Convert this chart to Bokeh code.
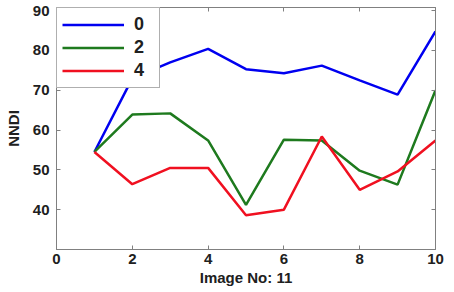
from bokeh.plotting import figure
from bokeh.models import LinearAxis, FixedTicker, Range1d, Legend, LegendItem
from bokeh.embed import file_html
from bokeh.resources import INLINE

x_vals = [1, 2, 3, 4, 5, 6, 7, 8, 9, 10]
series_0 = [54.5, 73.0, 77.0, 80.4, 75.3, 74.3, 76.2, 72.5, 68.9, 84.8]
series_2 = [54.5, 63.9, 64.2, 57.4, 41.2, 57.6, 57.4, 49.8, 46.3, 70.0]
series_4 = [54.5, 46.4, 50.5, 50.5, 38.6, 40.0, 58.4, 45.0, 49.6, 57.4]
labels = ["0", "2", "4"]
colors = ["#0000f0", "#1e7a1e", "#f01020"]
x_ticks = [0, 2, 4, 6, 8, 10]
y_ticks = [40, 50, 60, 70, 80, 90]

FONT = "Liberation Sans"

p = figure(width=445, height=288, output_backend="svg", toolbar_location=None,
           x_range=Range1d(0, 10), y_range=Range1d(30, 90.8),
           min_border_left=56, min_border_right=10, min_border_top=7, min_border_bottom=38)
p.xgrid.visible = False
p.ygrid.visible = False
p.outline_line_color = "#808080"
p.outline_line_width = 1
p.background_fill_color = "white"
p.border_fill_color = "white"

for ax, ticks in ((p.xaxis[0], x_ticks), (p.yaxis[0], y_ticks)):
    ax.ticker = FixedTicker(ticks=ticks)
    ax.minor_tick_line_color = None
    ax.major_tick_in = 4
    ax.major_tick_out = 0
    ax.axis_line_color = "#808080"
    ax.major_tick_line_color = "#808080"
    ax.major_label_text_font = FONT
    ax.major_label_text_font_style = "bold"
    ax.major_label_text_font_size = "15px"
    ax.major_label_text_color = "#202020"
    ax.axis_label_text_font = FONT
    ax.axis_label_text_font_style = "bold"
    ax.axis_label_text_font_size = "15px"
    ax.axis_label_text_color = "#202020"

p.xaxis.axis_label = "Image No: 11"
p.yaxis.axis_label = "NNDI"
p.xaxis.axis_label_standoff = 2
p.yaxis.axis_label_standoff = 8
p.xaxis.major_label_standoff = 4
p.yaxis.major_label_standoff = 7

for loc, ticks in (("right", y_ticks), ("above", x_ticks)):
    ax = LinearAxis(ticker=FixedTicker(ticks=ticks))
    ax.major_label_text_font_size = "0px"
    ax.major_label_standoff = 0
    ax.minor_tick_line_color = None
    ax.major_tick_in = 4
    ax.major_tick_out = 0
    ax.axis_line_color = "#808080"
    ax.major_tick_line_color = "#808080"
    p.add_layout(ax, loc)

renderers = []
for ys, c in zip((series_0, series_2, series_4), colors):
    r = p.line(x_vals, ys, line_color=c, line_width=2.5)
    renderers.append(r)

legend = Legend(items=[LegendItem(label=l, renderers=[r]) for l, r in zip(labels, renderers)],
                location="top_left")
legend.margin = 0
legend.padding = 5
legend.spacing = 0
legend.glyph_width = 62
legend.glyph_height = 23
legend.label_height = 23
legend.label_standoff = 10
legend.label_text_font = FONT
legend.label_text_font_style = "bold"
legend.label_text_font_size = "18px"
legend.label_text_color = "#202020"
legend.border_line_color = "#606060"
legend.border_line_width = 1
legend.background_fill_color = "white"
legend.background_fill_alpha = 1.0
p.add_layout(legend, "center")

open("out.html", "w").write(file_html(p, INLINE))
